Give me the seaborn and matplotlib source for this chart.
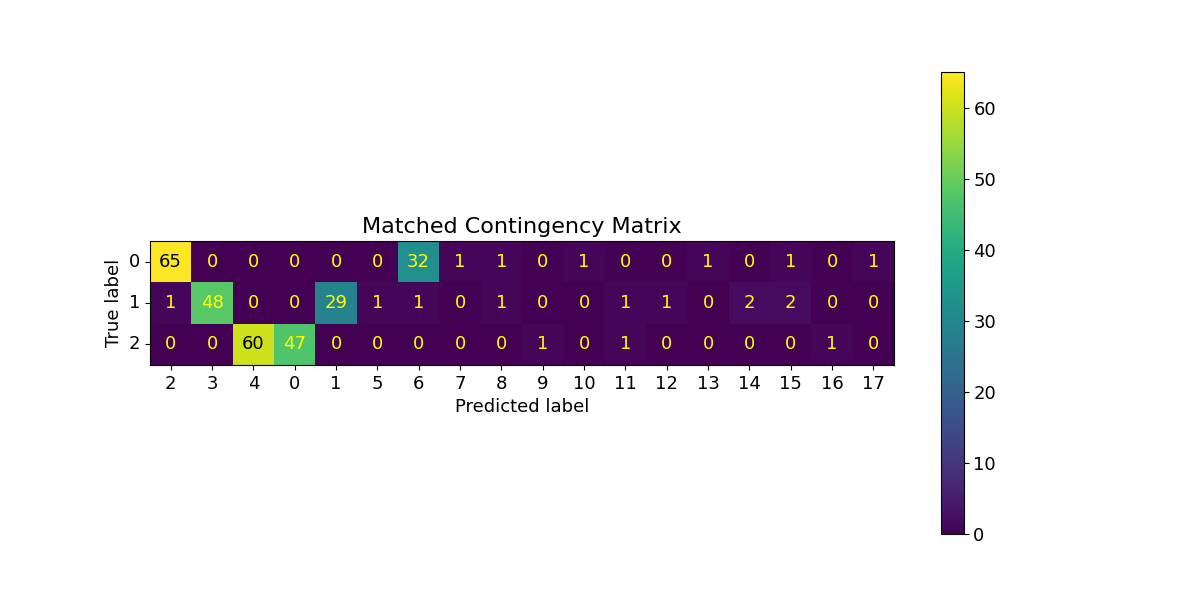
import numpy as np
import matplotlib
matplotlib.use('Agg')
import matplotlib.pyplot as plt
import seaborn as sns

pred_labels = ['2', '3', '4', '0', '1', '5', '6', '7', '8', '9', '10',
               '11', '12', '13', '14', '15', '16', '17']
true_labels = ['0', '1', '2']

row_0 = [65, 0, 0, 0, 0, 0, 32, 1, 1, 0, 1, 0, 0, 1, 0, 1, 0, 1]
row_1 = [1, 48, 0, 0, 29, 1, 1, 0, 1, 0, 0, 1, 1, 0, 2, 2, 0, 0]
row_2 = [0, 0, 60, 47, 0, 0, 0, 0, 0, 1, 0, 1, 0, 0, 0, 0, 1, 0]


def main():
    plt.rcParams['font.size'] = 13
    cm = np.array([row_0, row_1, row_2])

    fig, ax = plt.subplots(figsize=(12, 6), dpi=100)
    sns.heatmap(cm, ax=ax, cmap='viridis', vmin=0, vmax=cm.max(),
                square=True, annot=True, fmt='d',
                annot_kws={'fontsize': 13},
                xticklabels=pred_labels, yticklabels=true_labels)

    # text colour: yellow on dark cells, black on the brightest ones
    for t in ax.texts:
        v = int(t.get_text())
        t.set_color('black' if v > 55 else 'yellow')

    for s in ax.spines.values():
        s.set_visible(True)
        s.set_linewidth(0.8)
        s.set_color('black')
    cbar = ax.collections[0].colorbar
    cbar.outline.set_linewidth(0.8)
    cbar.set_ticks([0, 10, 20, 30, 40, 50, 60])
    cbar.ax.tick_params(labelsize=13)

    ax.set_yticklabels(true_labels, rotation=0, va='center')
    ax.set_xticklabels(pred_labels, rotation=0)
    ax.tick_params(labelsize=13)
    ax.set_xlabel('Predicted label', fontsize=13)
    ax.set_ylabel('True label', fontsize=13)
    ax.set_title('Matched Contingency Matrix', fontsize=16)

    fig.savefig('out.png', dpi=100)
    plt.close(fig)


if __name__ == '__main__':
    main()
